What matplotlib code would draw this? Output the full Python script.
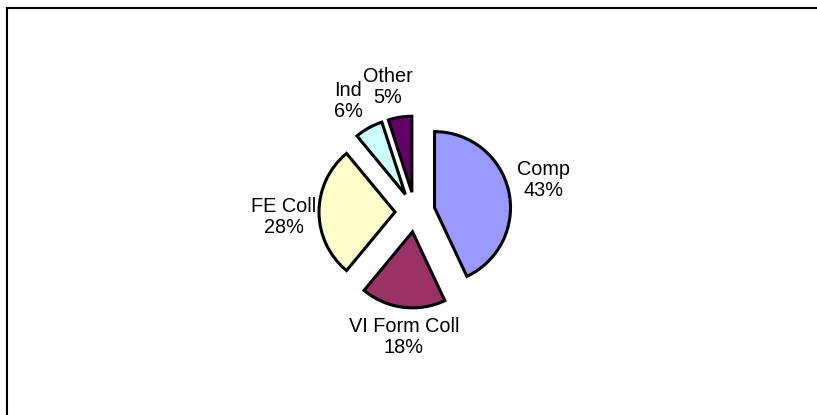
import matplotlib.pyplot as plt
from matplotlib.lines import Line2D

plt.rcParams['font.family'] = ['Liberation Sans', 'DejaVu Sans']

# data
labels = ['Comp', 'VI Form Coll', 'FE Coll', 'Ind', 'Other']
shares = [43, 18, 28, 6, 5]
colors = ['#9999FF', '#993366', '#FFFFCC', '#CCFFFF', '#660066']

W, H = 817, 415
fig = plt.figure(figsize=(W / 100, H / 100), dpi=100)
ax = fig.add_axes([0, 0, 1, 1])

# pixel coordinates, pie centre and radius
cx, cy, r = 415, H - 212, 76
wedges, _ = ax.pie(shares, colors=colors, startangle=90, counterclock=False,
                   explode=[20] * len(shares), radius=r, center=(cx, cy),
                   frame=True, wedgeprops=dict(edgecolor='black', linewidth=2.2))

ax.set_xlim(0, W)
ax.set_ylim(0, H)
ax.set_aspect('equal')
ax.axis('off')

# label positions (centre of each label block, image pixels)
label_pos = [(544, 180), (404, 337), (284, 217), (348, 101), (388, 87)]
for name, val, (x, y) in zip(labels, shares, label_pos):
    ax.text(x, H - y, f'{name}\n{val}%', ha='center', va='center',
            fontsize=14.3, linespacing=1.1)

# chart area border (only left and top visible)
fig.add_artist(Line2D([6.5 / W, 6.5 / W], [0, 1 - 8 / H], color='black', lw=1.5,
                      transform=fig.transFigure))
fig.add_artist(Line2D([6.5 / W, 1], [1 - 8 / H, 1 - 8 / H], color='black', lw=1.5,
                      transform=fig.transFigure))

plt.savefig('out.png', dpi=100)
